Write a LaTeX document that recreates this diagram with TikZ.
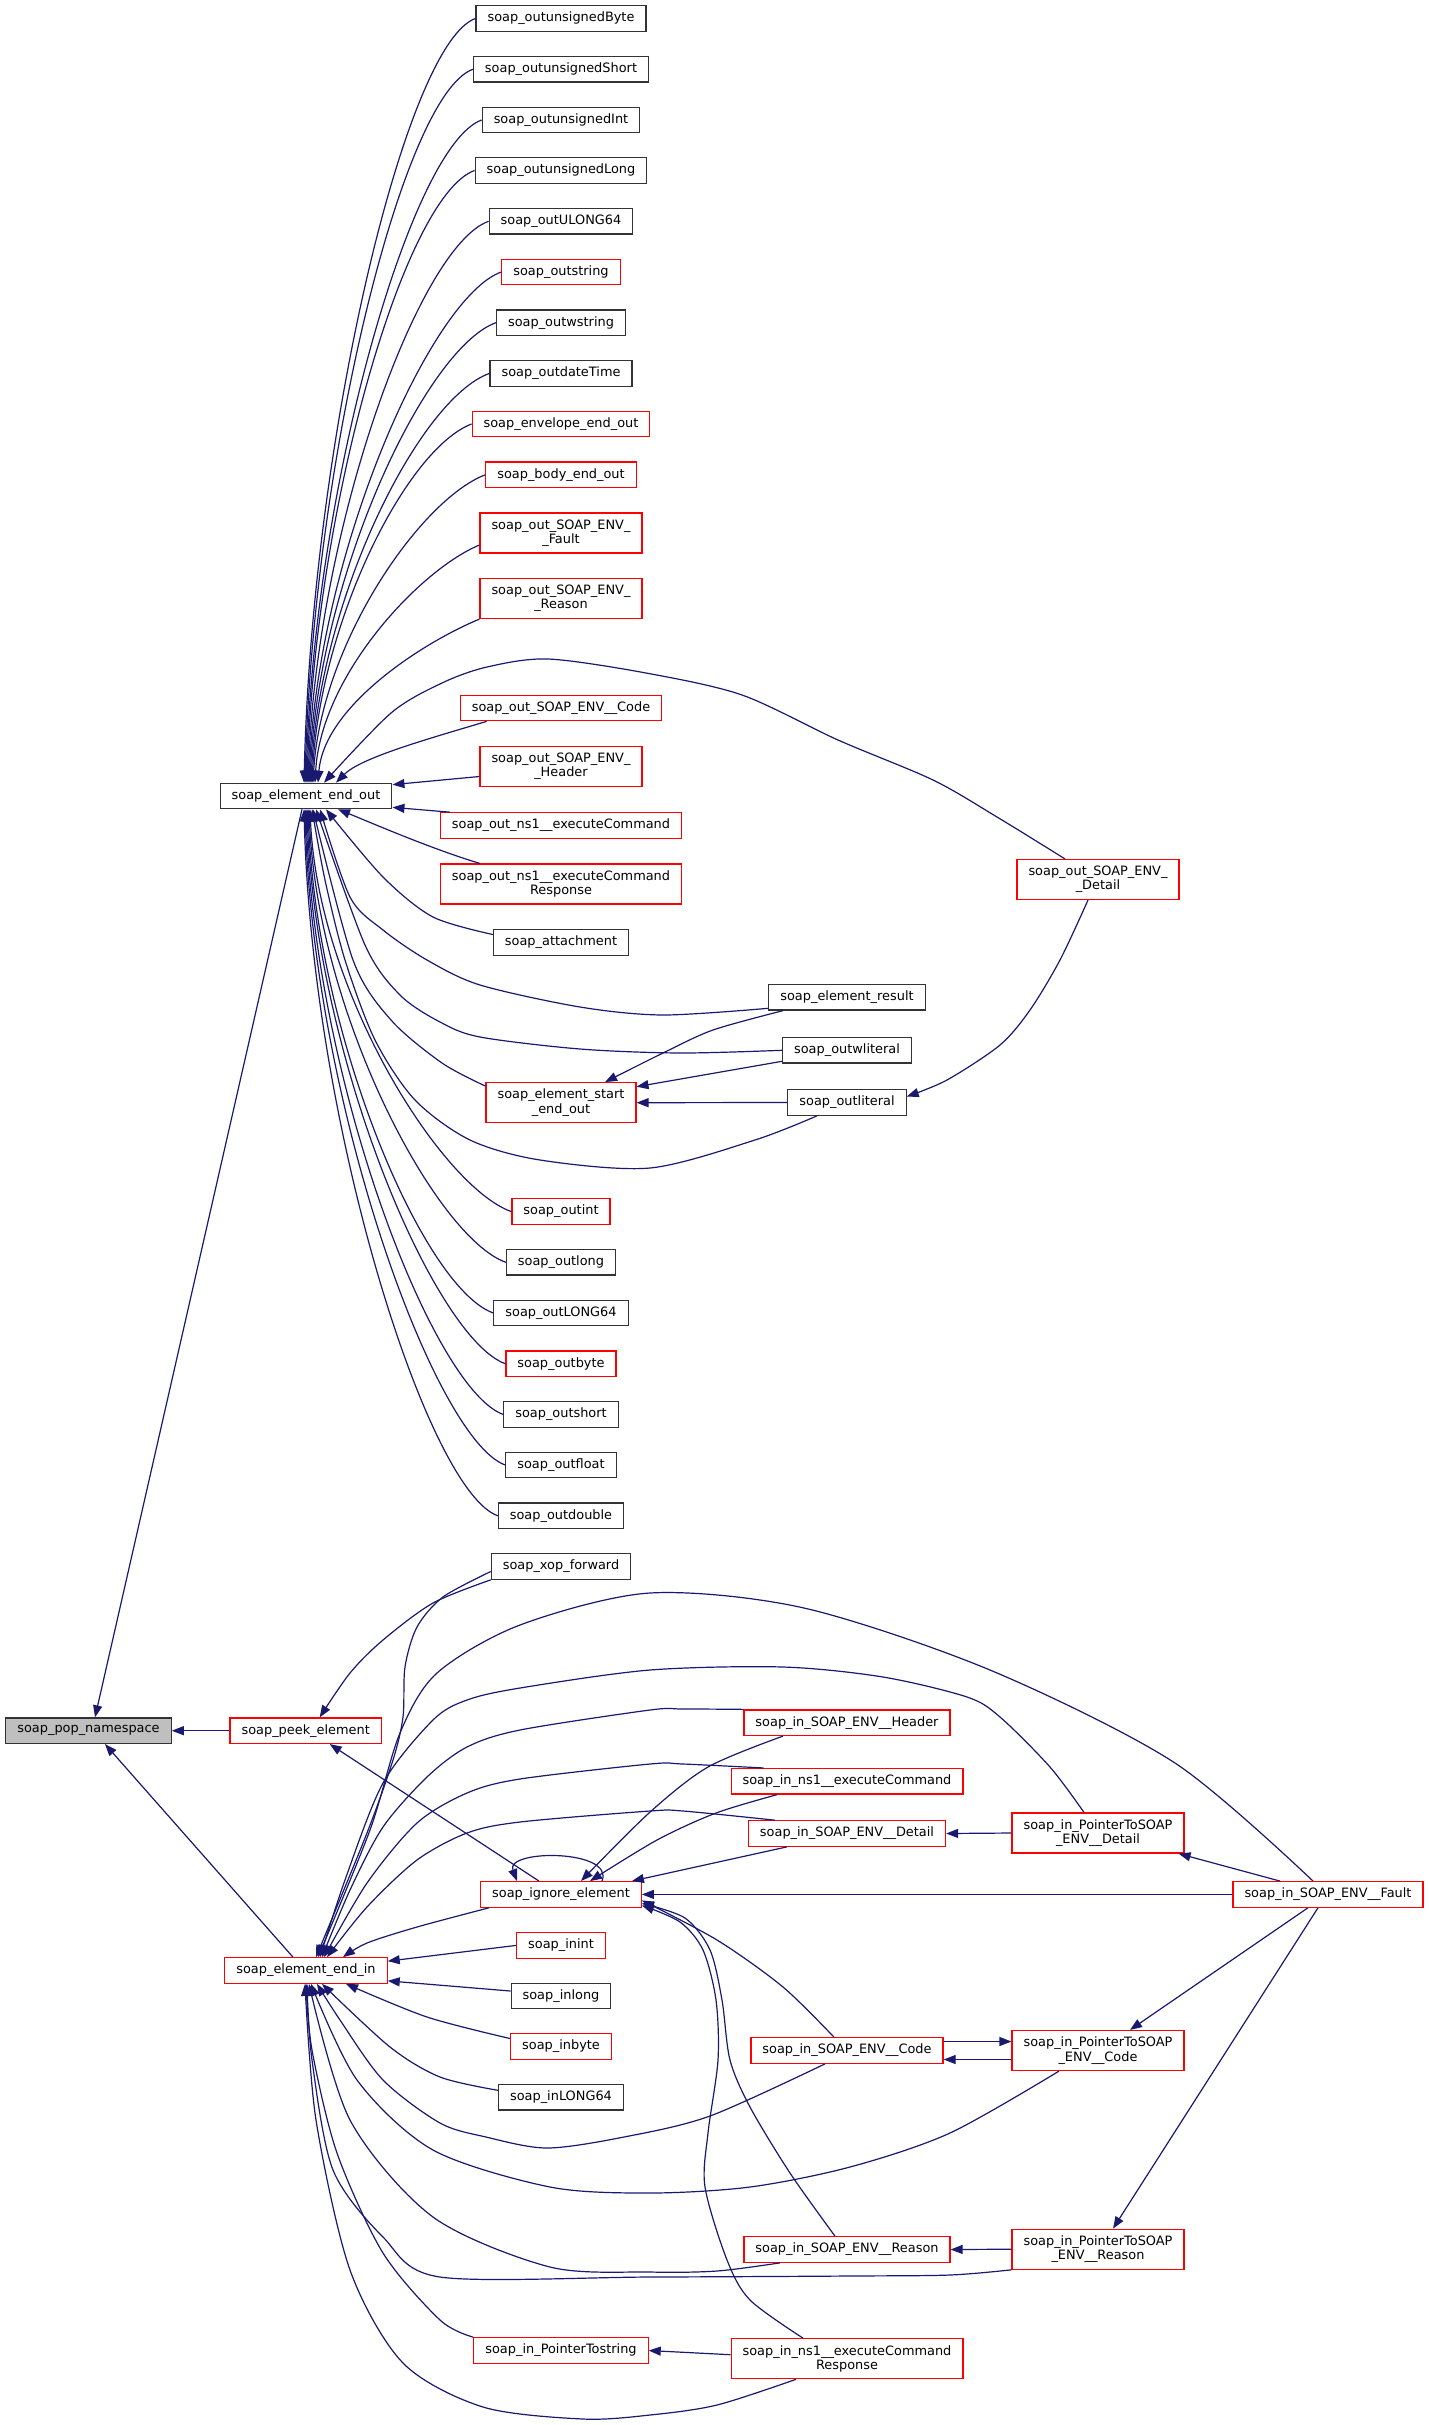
\documentclass[tikz,border=0pt]{standalone}
\usepackage{fontspec}
\setmainfont{DejaVu Sans}
\usetikzlibrary{arrows.meta}
\definecolor{edgeblue}{HTML}{191970}
\definecolor{popgray}{HTML}{BFBFBF}
\newcommand\dxfont{\fontsize{12.9pt}{14.3pt}\selectfont}
\begin{document}
\begin{tikzpicture}[x=1pt,y=-1pt,
  fn/.style={draw=black!80, line width=1.2pt, fill=white, font=\dxfont, inner xsep=11.5pt, inner ysep=0pt, minimum height=25.5pt, align=center},
  rf/.style={fn, draw=red},
  two/.style={minimum height=40pt},
  edg/.style={draw=edgeblue, line width=1.2pt, -{Triangle[length=12pt,width=9pt]}}]
\fill[white] (0,0) rectangle (1429,2425);
\useasboundingbox (0,0) rectangle (1429,2425);

% ---------- nodes ----------
\node[fn, fill=popgray] (pop) at (88.5,1730.7) {soap\_pop\_namespace};
\node[fn] (eout) at (306,796) {soap\_element\_end\_out};
\node[rf] (peek) at (305.7,1730.7) {soap\_peek\_element};
\node[rf] (ein) at (306,1970.5) {soap\_element\_end\_in};

\node[fn] (obyte) at (561,18.5) {soap\_outunsignedByte};
\node[fn] (oshort) at (561,69.3) {soap\_outunsignedShort};
\node[fn] (oint) at (561,120) {soap\_outunsignedInt};
\node[fn] (olong) at (561,170.5) {soap\_outunsignedLong};
\node[fn] (oul) at (561,221.3) {soap\_outULONG64};
\node[rf] (ostr) at (561,272) {soap\_outstring};
\node[fn] (owstr) at (561,322.7) {soap\_outwstring};
\node[fn] (odt) at (561,373.4) {soap\_outdateTime};
\node[rf] (oenv) at (561,424) {soap\_envelope\_end\_out};
\node[rf] (obody) at (561,474.8) {soap\_body\_end\_out};
\node[rf,two] (ofault) at (561,533) {soap\_out\_SOAP\_ENV\_\\\_Fault};
\node[rf,two] (oreason) at (561,598.5) {soap\_out\_SOAP\_ENV\_\\\_Reason};
\node[rf] (ocode) at (561,708) {soap\_out\_SOAP\_ENV\_\_Code};
\node[rf,two] (ohdr) at (561,766.5) {soap\_out\_SOAP\_ENV\_\\\_Header};
\node[rf] (ons) at (561,825.5) {soap\_out\_ns1\_\_executeCommand};
\node[rf,two] (onsr) at (561,884) {soap\_out\_ns1\_\_executeCommand\\Response};
\node[fn] (oatt) at (561,942.5) {soap\_attachment};
\node[rf,two] (oseo) at (561,1102.7) {soap\_element\_start\\\_end\_out};
\node[rf] (ointt) at (561,1211.6) {soap\_outint};
\node[fn] (olng) at (561,1262.3) {soap\_outlong};
\node[fn] (oL64) at (561,1313) {soap\_outLONG64};
\node[rf] (obyt) at (561,1363.7) {soap\_outbyte};
\node[fn] (osht) at (561,1414.4) {soap\_outshort};
\node[fn] (oflt) at (561,1465) {soap\_outfloat};
\node[fn] (odbl) at (561,1515.8) {soap\_outdouble};
\node[fn] (xop) at (561,1566.5) {soap\_xop\_forward};
\node[rf] (ign) at (561,1894.4) {soap\_ignore\_element};
\node[rf] (iint) at (561,1945.4) {soap\_inint};
\node[fn] (ilong) at (561,1996) {soap\_inlong};
\node[rf] (ibyte) at (561,2046.5) {soap\_inbyte};
\node[fn] (iL64) at (561,2097.3) {soap\_inLONG64};
\node[rf] (ipts) at (561,2350.5) {soap\_in\_PointerTostring};

\node[fn] (eres) at (847,997.3) {soap\_element\_result};
\node[fn] (owl) at (847,1050.3) {soap\_outwliteral};
\node[fn] (olit) at (847,1102.5) {soap\_outliteral};
\node[rf] (ihdr) at (847,1722.7) {soap\_in\_SOAP\_ENV\_\_Header};
\node[rf] (ins) at (847,1781.3) {soap\_in\_ns1\_\_executeCommand};
\node[rf] (idet) at (847,1833.5) {soap\_in\_SOAP\_ENV\_\_Detail};
\node[rf] (icode) at (847,2050.5) {soap\_in\_SOAP\_ENV\_\_Code};
\node[rf] (ireas) at (847,2249.5) {soap\_in\_SOAP\_ENV\_\_Reason};
\node[rf,two] (insr) at (847,2358.7) {soap\_in\_ns1\_\_executeCommand\\Response};

\node[rf,two] (odet) at (1098,879.5) {soap\_out\_SOAP\_ENV\_\\\_Detail};
\node[rf,two] (pdet) at (1098,1833) {soap\_in\_PointerToSOAP\\\_ENV\_\_Detail};
\node[rf,two] (pcode) at (1098,2050.5) {soap\_in\_PointerToSOAP\\\_ENV\_\_Code};
\node[rf,two] (preas) at (1098,2249.2) {soap\_in\_PointerToSOAP\\\_ENV\_\_Reason};
\node[rf] (fault) at (1328,1894.4) {soap\_in\_SOAP\_ENV\_\_Fault};

% ---------- edges into soap_element_end_out (top) ----------
\draw[edg] (obyte.west) .. controls +(-70,25) and +(8,-344) .. ([xshift=-2pt]eout.north);
\draw[edg] (oshort.west) .. controls +(-70,25) and +(8,-321) .. ([xshift=-1pt]eout.north);
\draw[edg] (oint.west) .. controls +(-70,25) and +(8,-298) .. (eout.north);
\draw[edg] (olong.west) .. controls +(-70,25) and +(8,-276) .. ([xshift=1pt]eout.north);
\draw[edg] (oul.west) .. controls +(-70,25) and +(8,-253) .. ([xshift=2pt]eout.north);
\draw[edg] (ostr.west) .. controls +(-70,25) and +(8,-230) .. ([xshift=3pt]eout.north);
\draw[edg] (owstr.west) .. controls +(-70,25) and +(8,-207) .. ([xshift=4pt]eout.north);
\draw[edg] (odt.west) .. controls +(-70,25) and +(8,-184) .. ([xshift=5pt]eout.north);
\draw[edg] (oenv.west) .. controls +(-65,25) and +(8,-162) .. ([xshift=6pt]eout.north);
\draw[edg] (obody.west) .. controls +(-65,25) and +(8,-139) .. ([xshift=7pt]eout.north);
\draw[edg] ([yshift=-12pt]ofault.west) .. controls +(-60,25) and +(6,-107) .. ([xshift=9pt]eout.north);
\draw[edg] (oreason.south west) .. controls +(-60,25) and +(6,-75) .. ([xshift=12pt]eout.north);
\draw[edg] plot[smooth] coordinates {([xshift=-33pt]odet.north) (997,817) (933,780) (838,740) (742,695) (646,673) (548,659) (487,667) (442,683) (391,713) ([xshift=18pt]eout.north)};
\draw[edg] ([xshift=27pt]ocode.south west) .. controls +(-60,18) and +(25,-25) .. ([xshift=30pt]eout.north);
\draw[edg] ([yshift=-10pt]ohdr.west) -- ([yshift=-2pt]eout.north east);
\draw[edg] ([xshift=10pt]ons.north west) -- ([yshift=2pt]eout.south east);
\draw[edg] ([xshift=40pt]onsr.north west) .. controls +(-50,-15) and +(30,12) .. ([xshift=32pt]eout.south);
\draw[edg] plot[smooth] coordinates {([yshift=8pt]oatt.west) (433,917) (383,877) ([xshift=20pt]eout.south)};
\draw[edg] plot[smooth] coordinates {([yshift=-11pt]eres.west) (663,1015) (580,1007) (480,985) (427,960) (383,930) (350,897) ([xshift=14pt]eout.south)};
\draw[edg] plot[smooth] coordinates {(owl.west) (680,1053) (580,1049) (480,1037) (440,1022) (400,995) (365,945) ([xshift=10pt]eout.south)};
\draw[edg] plot[smooth] coordinates {([yshift=-4pt]oseo.north west) (442,1063) (391,1020) (353,960) ([xshift=7pt]eout.south)};
\draw[edg] plot[smooth] coordinates {([xshift=-30pt]olit.south) (755,1140) (650,1168) (540,1160) (470,1140) (415,1100) (375,1040) (345,960) (325,880) ([xshift=6pt]eout.south)};
% bottom
\draw[edg] (ointt.west) .. controls +(-70,-25) and +(8,182) .. ([xshift=4pt]eout.south);
\draw[edg] (olng.west) .. controls +(-70,-25) and +(8,204) .. ([xshift=3pt]eout.south);
\draw[edg] (oL64.west) .. controls +(-70,-25) and +(8,227) .. ([xshift=2pt]eout.south);
\draw[edg] (obyt.west) .. controls +(-70,-25) and +(8,250) .. ([xshift=1pt]eout.south);
\draw[edg] (osht.west) .. controls +(-70,-25) and +(8,273) .. (eout.south);
\draw[edg] (oflt.west) .. controls +(-70,-25) and +(8,296) .. ([xshift=-1pt]eout.south);
\draw[edg] (odbl.west) .. controls +(-70,-25) and +(8,318) .. ([xshift=-2pt]eout.south);

% other out-side edges
\draw[edg] plot[smooth] coordinates {([xshift=-64pt]eres.south) (713,1030) (663,1053) ([xshift=44pt]oseo.north)};
\draw[edg] ([yshift=-11pt]owl.west) -- ([yshift=-4.6pt]oseo.north east);
\draw[edg] (olit.west) -- (oseo.east);
\draw[edg] plot[smooth] coordinates {([xshift=-10pt]odet.south) (1060,960) (1030,1010) (1000,1045) (947,1080) ([yshift=6pt]olit.east)};

% ---------- into pop_namespace ----------
\draw[edg] ([xshift=-4pt]eout.south) -- ([xshift=6.5pt]pop.north);
\draw[edg] (peek.west) -- (pop.east);
\draw[edg] ([xshift=-13pt]ein.north) -- ([xshift=16.5pt]pop.south);

% ---------- into peek ----------
\draw[edg] plot[smooth] coordinates {(xop.south west) (433,1603) (383,1640) (350,1673) ([xshift=14pt]peek.north)};
\draw[edg] ([xshift=-22pt]ign.north) -- ([xshift=24pt]peek.south);

% ---------- into soap_element_end_in ----------
\draw[edg] plot[smooth] coordinates {([yshift=-5pt]xop.west) (443,1597) (417,1627) (405,1667) (403,1717) (393,1760) (367,1833) ([xshift=10pt]ein.north)};
\draw[edg] plot[smooth] coordinates {([xshift=-15pt]fault.north) (1175,1763) (990,1670) (804,1608) (650,1593) (520,1625) (437,1673) (400,1733) (370,1830) ([xshift=12pt]ein.north)};
\draw[edg] plot[smooth] coordinates {([xshift=-14pt]pdet.north) (1050,1767) (1000,1717) (967,1697) (883,1677) (783,1667) (650,1670) (520,1688) (467,1700) (433,1720) (383,1783) (345,1880) ([xshift=14pt]ein.north)};
\draw[edg] plot[smooth] coordinates {(ihdr.north west) (683,1709) (650,1710) (520,1730) (467,1747) (427,1777) (383,1827) (350,1890) ([xshift=16pt]ein.north)};
\draw[edg] plot[smooth] coordinates {([xshift=33pt]ins.north west) (683,1764) (650,1764) (520,1779) (467,1793) (417,1823) (367,1883) ([xshift=18pt]ein.north)};
\draw[edg] plot[smooth] coordinates {([xshift=27pt]idet.north west) (683,1811) (650,1811) (520,1822) (467,1833) (417,1860) (367,1907) ([xshift=21pt]ein.north)};
\draw[edg] plot[smooth] coordinates {([xshift=9pt]ign.south west) (417,1927) (367,1943) ([xshift=37pt]ein.north)};
\draw[edg] (iint.west) -- ([yshift=-4pt]ein.north east);
\draw[edg] ([yshift=5pt]ilong.west) -- ([yshift=3pt]ein.south east);
\draw[edg] plot[smooth] coordinates {([yshift=8pt]ibyte.west) (427,2017) ([xshift=40pt]ein.south)};
\draw[edg] plot[smooth] coordinates {([yshift=7pt]iL64.west) (440,2077) (390,2047) ([xshift=16pt]ein.south)};
\draw[edg] plot[smooth] coordinates {([xshift=-22pt]icode.south) (710,2116) (624,2137) (547,2148) (486,2137) (440,2123) (383,2080) (340,2020) ([xshift=11pt]ein.south)};
\draw[edg] plot[smooth] coordinates {([xshift=-39pt]pcode.south) (950,2133) (850,2167) (750,2187) (650,2193) (550,2187) (433,2150) (357,2080) ([xshift=5pt]ein.south)};
\draw[edg] plot[smooth] coordinates {([xshift=-67pt]ireas.south) (717,2271) (650,2272) (550,2267) (433,2217) (350,2120) ([xshift=3pt]ein.south)};
\draw[edg] plot[smooth] coordinates {(preas.south west) (950,2275) (850,2276) (650,2277) (440,2277) (383,2237) (333,2170) (312,2060) ([xshift=1pt]ein.south)};
\draw[edg] plot[smooth] coordinates {(ipts.north west) (440,2320) (383,2253) (337,2153) (312,2050) (ein.south)};
\draw[edg] plot[smooth] coordinates {([xshift=-51pt]insr.south) (717,2405) (650,2415) (583,2419) (483,2407) (403,2363) (350,2270) (316,2120) ([xshift=-1pt]ein.south)};

% ---------- into soap_ignore_element ----------
\draw[edg] ([xshift=41pt]ign.north) .. controls +(13,-32) and +(-12,-32) .. ([xshift=-44pt]ign.north);
\draw[edg] plot[smooth] coordinates {([xshift=-64pt]ihdr.south) (708,1767) (649,1813) ([xshift=20pt]ign.north)};
\draw[edg] plot[smooth] coordinates {([xshift=-70pt]ins.south) (716,1813) (657,1840) ([xshift=29pt]ign.north)};
\draw[edg] ([xshift=-60pt]idet.south) -- ([xshift=-10pt]ign.north east);
\draw[edg] (fault.west) -- (ign.east);
\draw[edg] plot[smooth] coordinates {([xshift=-13pt]icode.north) (783,1987) (717,1940) ([yshift=-6pt]ign.east)};
\draw[edg] plot[smooth] coordinates {([xshift=-12pt]ireas.north) (790,2173) (750,2107) (730,2060) (722,2000) (710,1950) (685,1918) ([yshift=-9pt]ign.east)};
\draw[edg] plot[smooth] coordinates {([xshift=-44pt]insr.north) (750,2300) (727,2260) (705,2187) (708,2133) (718,2060) (716,2000) (703,1950) (680,1922) ([yshift=-11pt]ign.east)};

% ---------- right-hand edges ----------
\draw[edg] (pdet.west) -- (idet.east);
\draw[edg] ([xshift=-48pt]fault.north) -- ([xshift=-6pt]pdet.south east);
\draw[edg] ([yshift=9pt]icode.east) -- ([yshift=9pt]pcode.west);
\draw[edg] ([yshift=-9pt]pcode.west) -- ([yshift=-9pt]icode.east);
\draw[edg] ([xshift=-20pt]fault.south) -- ([xshift=32pt]pcode.north);
\draw[edg] ([xshift=-10pt]fault.south) -- ([xshift=15pt]preas.north);
\draw[edg] (preas.west) -- (ireas.east);
\draw[edg] ([yshift=4pt]insr.west) -- (ipts.east);
\end{tikzpicture}
\end{document}
